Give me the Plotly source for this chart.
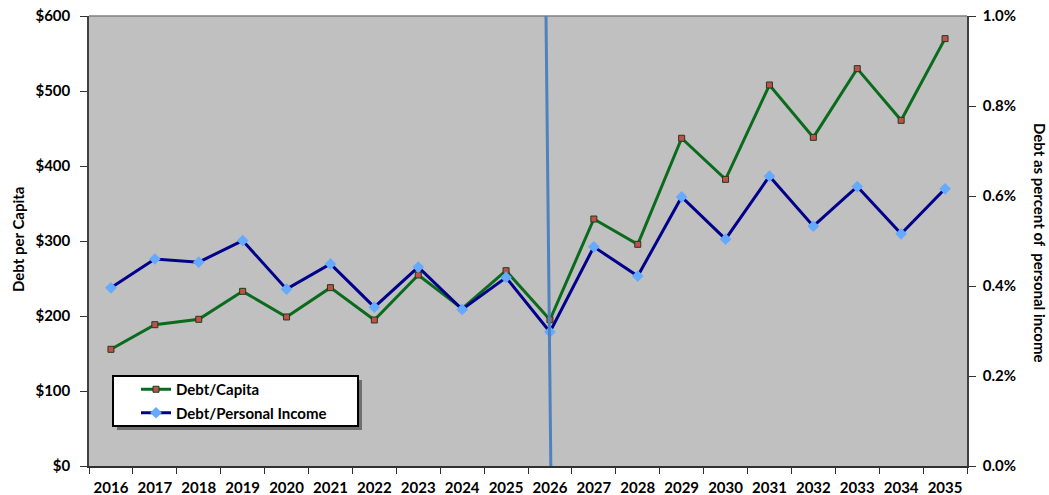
import plotly.graph_objects as go

years = [str(y) for y in range(2016, 2036)]
debt_per_capita = [155.6, 188.4, 195.6, 232.9, 198.7, 237.8, 194.7, 254.7, 209.8, 260.4,
                   195.0, 329.3, 295.6, 437.0, 382.2, 508.0, 438.2, 529.8, 460.9, 569.8]
debt_pct_income = [0.396, 0.460, 0.453, 0.501, 0.393, 0.449, 0.353, 0.442, 0.348, 0.419,
                   0.298, 0.487, 0.422, 0.598, 0.504, 0.644, 0.533, 0.621, 0.516, 0.616]
divider_year = "2026"

FONT = "Lato"
fig = go.Figure()
fig.add_trace(go.Scatter(
    x=years, y=debt_per_capita, name="Debt/Capita", mode="lines+markers",
    legendgroup="a",
    line=dict(color="#0a6b1c", width=3),
    marker=dict(symbol="square", size=6, color="#c0504d", line=dict(color="#1e3d14", width=1)),
))
fig.add_trace(go.Scatter(
    x=years, y=[v / 100 for v in debt_pct_income], name="Debt/Personal Income", yaxis="y2",
    mode="lines+markers", legendgroup="b",
    line=dict(color="#00008b", width=3),
    marker=dict(symbol="diamond", size=9, color="#66aaff", line=dict(width=0)),
))

L, R, T, B = 89, 967, 16, 466
W, H = 1049, 495
def px(x):
    return (x - L) / (R - L)
def py(y):
    return (B - y) / (B - T)

di = years.index(divider_year)
shapes = [
    dict(type="line", xref="paper", yref="paper", x0=0, x1=1, y0=1, y1=1,
         line=dict(color="#808080", width=1.5), layer="above"),
    dict(type="line", xref="x", yref="paper", x0=di - 0.09, x1=di + 0.02, y0=1, y1=0,
         line=dict(color="#4f81bd", width=3), layer="above"),
    dict(type="rect", xref="paper", yref="paper", x0=px(117), x1=px(362), y0=py(430), y1=py(380),
         fillcolor="#6f6f6f", line=dict(width=0), layer="above"),
    dict(type="rect", xref="paper", yref="paper", x0=px(113), x1=px(358), y0=py(426), y1=py(376),
         fillcolor="white", line=dict(color="black", width=2), layer="above"),
]

tickfont = dict(family=FONT, size=15, weight="bold")
fig.update_layout(
    width=W, height=H,
    margin=dict(l=L, r=W - R, t=T, b=H - B, pad=0),
    paper_bgcolor="white", plot_bgcolor="#c0c0c0",
    font=dict(family=FONT, size=14, color="black"),
    showlegend=True,
    legend=dict(x=px(136), y=py(373), xanchor="left", yanchor="top",
                bgcolor="rgba(0,0,0,0)", borderwidth=0,
                font=dict(family=FONT, size=15, color="black", weight="bold"),
                traceorder="grouped", tracegroupgap=1, itemwidth=30),
    xaxis=dict(type="category", showgrid=False, zeroline=False, automargin=False,
               showline=True, linecolor="#303030", linewidth=1.5, tickangle=0,
               ticks="outside", ticklen=6, tickcolor="#303030", tickson="boundaries",
               ticklabelstandoff=7,
               tickfont=tickfont, range=[-0.5, len(years) - 0.5]),
    yaxis=dict(range=[0, 600], dtick=100, tickprefix="$", showgrid=False, zeroline=False,
               automargin=False, ticklabelstandoff=7,
               showline=True, linecolor="#404040", linewidth=1.5,
               ticks="outside", ticklen=7, tickcolor="#303030", tickfont=tickfont),
    yaxis2=dict(range=[0, 0.01], dtick=0.002, tickformat=".1%", overlaying="y", side="right",
                automargin=False, ticklabelstandoff=4,
                showgrid=False, zeroline=False, showline=True, linecolor="#404040", linewidth=1.5,
                ticks="outside", ticklen=7, tickcolor="#303030", tickfont=tickfont),
    shapes=shapes,
    annotations=[
        dict(text="Debt per Capita", xref="paper", yref="paper",
             x=px(18), y=py(240), xanchor="center", yanchor="middle",
             textangle=-90, showarrow=False,
             font=dict(family=FONT, size=15, weight="bold")),
        dict(text="Debt as percent of\u00a0 personal income", xref="paper", yref="paper",
             x=px(1040), y=py(243), xanchor="center", yanchor="middle",
             textangle=90, showarrow=False,
             font=dict(family=FONT, size=15, weight="bold")),
    ],
)
fig.write_html("out.html")
